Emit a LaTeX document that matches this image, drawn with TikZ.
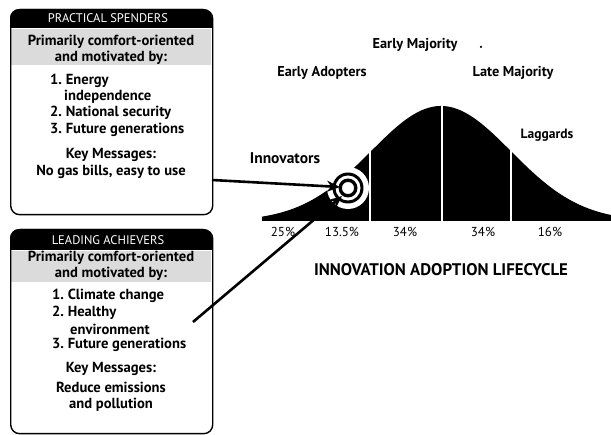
\documentclass[tikz,border=0pt]{standalone}
\usepackage{fontspec}
\setmainfont{PT Sans}
\usetikzlibrary{arrows.meta}
\begin{document}
\begin{tikzpicture}[x=1pt,y=-1pt,
  boxframe/.style={draw=black,line width=1.4pt,rounded corners=9pt},
  hdr/.style={font=\fontsize{12.5}{14}\selectfont,text=white,inner sep=0pt},
  bodytxt/.style={font=\bfseries\fontsize{14.6}{16}\selectfont,inner sep=0pt},
  itemtxt/.style={font=\bfseries\fontsize{14.6}{16}\selectfont,inner sep=0pt,anchor=west},
  lbl/.style={font=\bfseries\fontsize{14.3}{16}\selectfont,inner sep=0pt},
  pct/.style={font=\fontsize{13}{15}\selectfont,inner sep=0pt},
  arr/.style={line width=2.6pt,-{Stealth[length=13pt,width=11pt]}}]
\useasboundingbox (0,0) rectangle (611,435);
\fill[white] (0,0) rectangle (611,435);

% ---------- Box 1 ----------
\fill[black,rounded corners=9pt] (10,9) -- (212,9) -- (212,28) -- (10,28) -- cycle;
\fill[black] (10,20) rectangle (212,28);
\fill[black!14] (11,29) rectangle (211,65);
\node[boxframe,minimum width=202pt,minimum height=205pt,anchor=north west] (box1) at (10,9) {};
\node[hdr] (t1) at (108,18) {PRACTICAL SPENDERS};
\node[bodytxt] (b1a) at (111,42) {Primarily comfort-oriented};
\node[bodytxt] (b1b) at (111,58) {and motivated by:};
\node[itemtxt] (i1a) at (50,81) {1.~Energy};
\node[itemtxt] (i1b) at (64,97) {independence};
\node[itemtxt] (i1c) at (50,113) {2.~National security};
\node[itemtxt] (i1d) at (50,130) {3.~Future generations};
\node[bodytxt] (k1a) at (111,155) {Key Messages:};
\node[bodytxt] (k1b) at (111,172) {No gas bills, easy to use};

% ---------- Box 2 ----------
\fill[black,rounded corners=9pt] (10,229) -- (212,229) -- (212,250) -- (10,250) -- cycle;
\fill[black] (10,240) rectangle (212,250);
\fill[black!14] (11,251) rectangle (211,282);
\node[boxframe,minimum width=202pt,minimum height=204pt,anchor=north west] (box2) at (10,229) {};
\node[hdr] (t2) at (108,240) {LEADING ACHIEVERS};
\node[bodytxt] (b2a) at (111,258) {Primarily comfort-oriented};
\node[bodytxt] (b2b) at (111,274) {and motivated by:};
\node[itemtxt] (i2a) at (52,296) {1.~Climate change};
\node[itemtxt] (i2b) at (52,313) {2.~Healthy};
\node[itemtxt] (i2c) at (70,329) {environment};
\node[itemtxt] (i2d) at (52,345) {3.~Future generations};
\node[bodytxt] (k2a) at (111,369) {Key Messages:};
\node[bodytxt] (k2b) at (111,387) {Reduce emissions};
\node[bodytxt] (k2c) at (111,405) {and pollution};

% ---------- Bell curve ----------
\fill[black] (262,221) -- plot[domain=262:611,samples=160] (\x,{221-115*exp(-0.5*((\x-441)/70)^2)}) -- (611,221) -- cycle;
\foreach \xx in {370,442,511} \draw[white,line width=2pt] (\xx,222) -- (\xx,100);

% target
\coordinate (tc) at (348,188);
\fill[white] (tc) circle (21);
\fill[black] (tc) circle (15.5);
\fill[white] (tc) circle (12.5);
\fill[black] (tc) circle (9.5);
\filldraw[fill=white,draw=black,line width=0.8pt] (tc) circle (6.5);
\node[inner sep=0pt,minimum size=13pt] (target) at (tc) {};

% labels
\node[lbl] (em) at (415,45) {Early Majority};
\node[circle,fill=black,inner sep=0pt,minimum size=2.5pt] (dot) at (481,47) {};
\node[lbl] (ea) at (322,73) {Early Adopters};
\node[lbl] (lm) at (513,73) {Late Majority};
\node[lbl,font=\bfseries\fontsize{13.5}{15}\selectfont] (lg) at (547,135) {Laggards};
\node[lbl,font=\bfseries\fontsize{15.5}{17}\selectfont] (inn) at (285,158) {Innovators};

\node[pct] (p1) at (283,232) {25\%};
\node[pct] (p2) at (342,232) {13.5\%};
\node[pct] (p3) at (405,232) {34\%};
\node[pct] (p4) at (483,232) {34\%};
\node[pct] (p5) at (550,232) {16\%};

\node[font=\bfseries\fontsize{16.8}{18}\selectfont,inner sep=0pt] (title) at (441,270) {INNOVATION ADOPTION LIFECYCLE};

% arrows
\coordinate (s1) at (212,180);
\coordinate (e1) at (340,187);
\coordinate (s2) at (193,322);
\coordinate (e2) at (342,196);
\draw[arr] (s1) -- (e1);
\draw[arr] (s2) -- (e2);
\end{tikzpicture}
\end{document}
